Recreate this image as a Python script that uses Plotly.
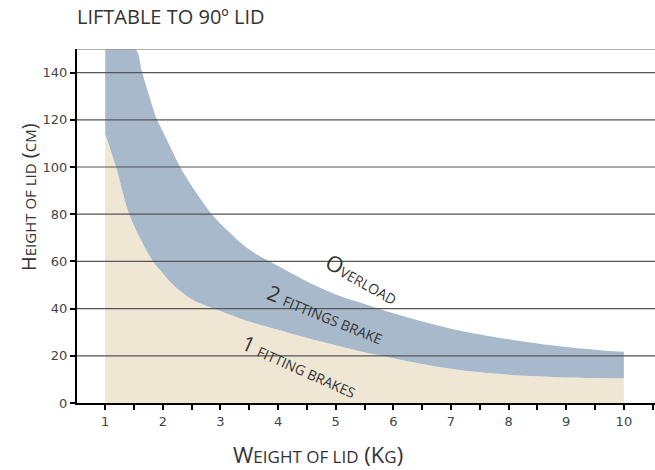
import plotly.graph_objects as go

# ---- data ----
x_upper = [1.0, 1.52, 1.64, 1.9, 2.0, 2.3, 2.5, 2.85, 3.0, 3.5, 4.0, 4.5, 5.0, 5.5,
           6.0, 6.5, 7.0, 7.5, 8.0, 8.5, 9.0, 9.5, 10.0]
y_upper = [150, 150, 140, 120, 115, 100, 92, 80, 76, 65, 58, 51.5, 46, 42,
           38, 34.5, 31.5, 29, 27, 25.2, 23.7, 22.6, 21.7]

x_lower = [1.0, 1.2, 1.4, 1.6, 1.83, 2.0, 2.16, 2.5, 3.0, 3.5, 4.0, 4.5, 5.0, 5.5,
           6.0, 6.5, 7.0, 7.5, 8.0, 8.5, 9.0, 9.5, 10.0]
y_lower = [114, 99, 81, 70, 60, 55, 50.5, 44, 39, 34.5, 31, 27.5, 24.5, 21.5,
           19, 16.5, 14.5, 13, 12, 11.3, 10.8, 10.6, 10.5]

x_ticks = [1, 2, 3, 4, 5, 6, 7, 8, 9, 10]
y_ticks = [0, 20, 40, 60, 80, 100, 120, 140]
grid_values = [20, 40, 60, 80, 100, 120, 140]
y_top = 150

BEIGE = "#efe6d4"
BLUE = "#a7b9ca"
TXT = "#333333"
LBL_FONT = "Open Sans"
TICK_FONT = dict(family="DejaVu Sans", size=13, color="#444444")


def sc(big, small, small_size):
    return f'{big}<span style="font-size:{small_size}px">{small}</span>'


fig = go.Figure()
fig.add_trace(go.Scatter(x=x_lower, y=y_lower, mode="lines", line=dict(width=0, shape="spline", smoothing=0.9),
                         fill="tozeroy", fillcolor=BEIGE, hoverinfo="skip", showlegend=False))
fig.add_trace(go.Scatter(x=x_upper, y=y_upper, mode="lines", line=dict(width=0, shape="spline", smoothing=0.9),
                         fill="tonexty", fillcolor=BLUE, hoverinfo="skip", showlegend=False))

shapes = []
for v in grid_values:
    shapes.append(dict(type="line", xref="paper", x0=0, x1=1, yref="y", y0=v, y1=v,
                       line=dict(color="#555555", width=1.2), layer="above"))
shapes.append(dict(type="line", xref="paper", x0=0, x1=1, yref="y", y0=y_top, y1=y_top,
                   line=dict(color="#999999", width=1.5), layer="above"))

W, H = 655, 470
L, T, B = 77, 49, 67
PW, PH = W - L, H - T - B


def px(xw):   # window x pixel -> paper x
    return (xw - L) / PW


def py(yw):   # window y pixel -> paper y
    return (H - B - yw) / PH


def ann(text, xw, yw, size, angle=0, xanchor="center"):
    return dict(text=text, xref="paper", yref="paper", x=px(xw), y=py(yw),
                xanchor=xanchor, yanchor="middle", textangle=angle, showarrow=False,
                font=dict(family=LBL_FONT, size=size, color=TXT))


annotations = [
    ann("LIFTABLE TO 90º LID", 75, 17, 20, xanchor="left"),
    ann(sc("W", "EIGHT OF LID", 17) + " (" + sc("K", "G", 17) + ")", 318, 454, 22),
    ann(sc("H", "EIGHT OF LID", 15) + " (" + sc("", "CM", 15) + ")", 28, 197, 20, angle=-90),
    ann(sc("O", "VERLOAD", 14), 362, 278, 22, angle=29),
    ann(sc("2 ", "FITTINGS BRAKE", 14), 325, 314, 21, angle=22),
    ann(sc("1 ", "FITTING BRAKES", 14), 299, 366, 21, angle=24),
]

fig.update_layout(
    width=W, height=H,
    margin=dict(l=L, r=0, t=T, b=B, pad=0),
    paper_bgcolor="white", plot_bgcolor="white",
    shapes=shapes, annotations=annotations,
    xaxis=dict(range=[0.51, 10.54], tickmode="array", tickvals=x_ticks,
               ticks="outside", ticklen=5, tickwidth=1.5, tickcolor="black",
               showline=True, linecolor="black", linewidth=2, showgrid=False, zeroline=False,
               tickfont=TICK_FONT,
               minor=dict(dtick=0.5, tick0=0.5, ticks="outside", ticklen=5, tickwidth=1.5,
                          tickcolor="black", showgrid=False)),
    yaxis=dict(range=[0, 150], tickmode="array", tickvals=y_ticks,
               ticks="outside", ticklen=5, tickwidth=1.5, tickcolor="black",
               showline=True, linecolor="black", linewidth=2, showgrid=False, zeroline=False,
               tickfont=TICK_FONT),
)

# remove the default 8px page margin so the figure fills the window exactly
fig.write_html("out.html", config={"displayModeBar": False},
               post_script="document.body.style.margin='0';")
